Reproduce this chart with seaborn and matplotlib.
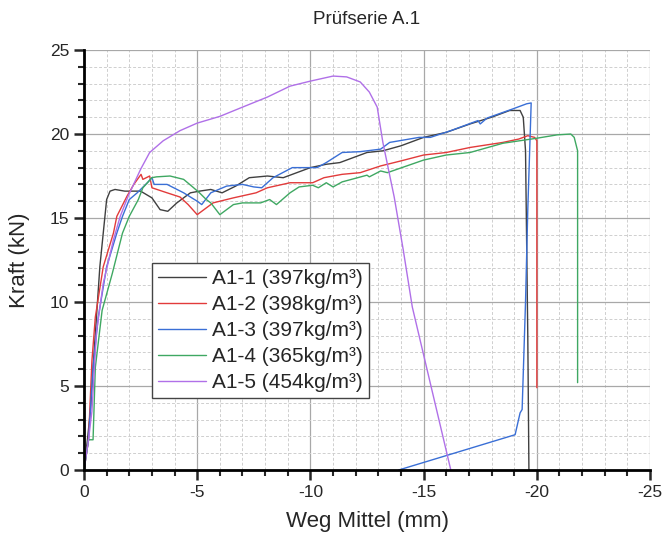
import numpy as np
import pandas as pd
import seaborn as sns
import matplotlib.pyplot as plt
from matplotlib.ticker import MultipleLocator

# Kurven (Weg Mittel in mm, Kraft in kN)
a1_1_x = [0, -0.15, -0.3, -0.4, -0.7, -0.85, -1.0, -1.15, -1.37, -1.8, -2.5, -3.0, -3.36, -3.7,
          -4.1, -4.7, -5.1, -5.6, -6.1, -6.7, -7.3, -8.1, -8.8, -9.4, -10.0, -10.7, -11.3,
          -12.5, -13.2, -14.0, -15.0, -16.0, -17.05, -18.0, -18.8, -19.26, -19.4, -19.5, -19.6, -19.65]
a1_1_y = [0, 1.8, 3.75, 6.1, 12.1, 14.1, 16.1, 16.6, 16.7, 16.6, 16.6, 16.2, 15.5, 15.4,
          15.9, 16.5, 16.6, 16.7, 16.5, 16.9, 17.4, 17.5, 17.4, 17.7, 18.0, 18.2, 18.3,
          18.9, 19.0, 19.3, 19.8, 20.1, 20.6, 21.0, 21.4, 21.4, 21.0, 19.0, 8.0, 0]

a1_2_x = [0, -0.2, -0.35, -0.5, -0.85, -1.3, -1.45, -1.9, -2.2, -2.52, -2.6, -2.9, -3.0, -3.67,
          -4.24, -4.6, -5.0, -5.1, -5.7, -6.6, -7.6, -8.1, -9.1, -10.1, -10.6, -11.4, -12.2,
          -13.1, -14.0, -15.0, -16.0, -17.05, -18.5, -19.2, -19.6, -19.9, -20.0, -20.0]
a1_2_y = [0, 1.8, 6.5, 9.1, 12.1, 14.1, 15.1, 16.3, 17.0, 17.6, 17.3, 17.5, 16.8, 16.5,
          16.25, 15.8, 15.2, 15.3, 15.9, 16.2, 16.5, 16.8, 17.1, 17.1, 17.4, 17.6, 17.7,
          18.1, 18.4, 18.75, 18.9, 19.2, 19.5, 19.7, 19.9, 19.8, 19.6, 4.9]

a1_3_x = [0, -0.2, -0.4, -0.63, -1.0, -1.45, -1.7, -2.0, -2.35, -2.8, -3.0, -3.1, -3.67, -4.4,
          -5.0, -5.2, -5.6, -6.3, -7.0, -7.5, -7.85, -8.35, -9.2, -10.0, -10.3, -10.7, -11.4,
          -12.2, -13.1, -13.5, -14.8, -15.3, -16.2, -17.4, -17.5, -17.8, -18.95, -19.55, -19.75,
          -19.6, -19.5, -19.35, -19.26, -19.04, -13.9]
a1_3_y = [0, 1.8, 6.1, 9.1, 12.1, 14.1, 15.1, 16.1, 16.5, 17.1, 17.4, 17.0, 17.0, 16.5,
          16.0, 15.8, 16.5, 16.9, 17.0, 16.85, 16.8, 17.4, 18.0, 18.0, 18.0, 18.3, 18.9,
          18.95, 19.1, 19.5, 19.8, 19.8, 20.2, 20.8, 20.6, 20.95, 21.5, 21.8, 21.85,
          15.5, 10.0, 3.6, 3.4, 2.1, 0]

a1_4_x = [0, -0.2, -0.4, -0.5, -0.8, -1.25, -1.7, -2.0, -2.4, -2.6, -3.0, -3.2, -3.8, -4.4,
          -4.8, -5.1, -5.4, -5.6, -6.0, -6.6, -7.0, -7.8, -8.2, -8.5, -9.1, -9.5, -10.1,
          -10.35, -10.7, -11.0, -11.4, -12.5, -12.6, -13.1, -13.4, -15.0, -16.0, -17.05,
          -18.5, -20.0, -20.9, -21.5, -21.65, -21.8, -21.8]
a1_4_y = [0, 1.8, 1.8, 6.1, 9.5, 11.7, 14.1, 15.1, 16.1, 16.8, 17.4, 17.45, 17.5, 17.3,
          16.85, 16.5, 16.1, 15.9, 15.2, 15.8, 15.9, 15.9, 16.1, 15.8, 16.5, 16.85, 16.95,
          16.8, 17.1, 16.85, 17.15, 17.55, 17.45, 17.8, 17.7, 18.45, 18.75, 18.9,
          19.45, 19.75, 19.95, 20.0, 19.8, 19.0, 5.2]

a1_5_x = [0, -0.2, -0.35, -0.55, -0.85, -1.3, -1.6, -1.95, -2.5, -2.9, -3.5, -4.24, -5.0,
          -6.0, -7.0, -8.1, -9.1, -10.0, -11.0, -11.6, -12.2, -12.6, -12.95, -13.2, -13.7,
          -14.1, -14.5, -16.2]
a1_5_y = [0, 1.8, 3.5, 8.2, 11.1, 13.7, 15.1, 16.3, 17.9, 18.9, 19.6, 20.2, 20.65,
          21.05, 21.6, 22.2, 22.85, 23.15, 23.45, 23.4, 23.1, 22.5, 21.6, 19.5, 16.25,
          13.1, 9.7, 0]

labels = ["A1-1 (397kg/m³)", "A1-2 (398kg/m³)", "A1-3 (397kg/m³)",
          "A1-4 (365kg/m³)", "A1-5 (454kg/m³)"]
colors = ["#404040", "#e23b3b", "#3a6fd6", "#3fa862", "#b070e8"]

curves = [(a1_1_x, a1_1_y), (a1_2_x, a1_2_y), (a1_3_x, a1_3_y),
          (a1_4_x, a1_4_y), (a1_5_x, a1_5_y)]
frames = []
for lab, (xs, ys) in zip(labels, curves):
    frames.append(pd.DataFrame({"Weg": xs, "Kraft": ys, "Probe": lab}))
data = pd.concat(frames, ignore_index=True)

sns.set_style("white")
plt.rcParams["font.family"] = ["Liberation Sans", "DejaVu Sans"]
plt.rcParams["axes.unicode_minus"] = False

fig = plt.figure(figsize=(6.64, 5.35), dpi=100)
ax = fig.add_axes([0.1265, 0.1215, 0.8525, 0.785])

sns.lineplot(data=data, x="Weg", y="Kraft", hue="Probe",
             estimator=None, sort=False, palette=dict(zip(labels, colors)),
             linewidth=1.0, ax=ax)

ax.set_xlim(0, -25)
ax.set_ylim(0, 25)
ax.xaxis.set_major_locator(MultipleLocator(5))
ax.xaxis.set_minor_locator(MultipleLocator(1))
ax.yaxis.set_major_locator(MultipleLocator(5))
ax.yaxis.set_minor_locator(MultipleLocator(1))
ax.grid(which="major", color="#a8a8a8", linewidth=0.9, linestyle="-")
ax.grid(which="minor", color="#cfcfcf", linewidth=0.7, linestyle=(0, (3, 2)))
ax.set_axisbelow(True)

for side in ["top", "right"]:
    ax.spines[side].set_visible(False)
for side in ["left", "bottom"]:
    ax.spines[side].set_linewidth(2.0)
    ax.spines[side].set_color("black")

ax.tick_params(which="major", direction="out", length=7, width=1.8, labelsize=12.5,
               bottom=True, left=True)
ax.tick_params(which="minor", direction="out", length=4, width=1.5, bottom=True, left=True)

ax.set_title("Prüfserie A.1", fontsize=13.5, pad=19)
ax.set_xlabel("Weg Mittel (mm)", fontsize=16, labelpad=8)
ax.set_ylabel("Kraft (kN)", fontsize=16, labelpad=14)

ax.legend(loc="lower left", bbox_to_anchor=(0.120, 0.171), borderaxespad=0,
          fontsize=15, frameon=True, fancybox=False, edgecolor="#444444",
          framealpha=1, handlelength=2.3, borderpad=0.3, labelspacing=0.33,
          handletextpad=0.3, title=None)

fig.savefig("out.png", dpi=100)
